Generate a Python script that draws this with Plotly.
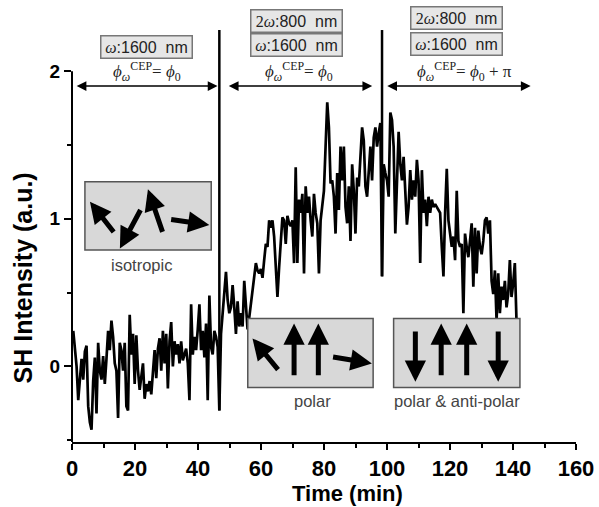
import plotly.graph_objects as go

# ---------------- data ----------------
T0 = 0.4      # first sample time (min)
DT = 0.527    # sampling interval (min)

seg_isotropic = [
    0.24, 0.12, 0.00, -0.23, -0.10, 0.05, -0.09, 0.10, 0.14, -0.27,
    -0.38, -0.43, -0.10, 0.06, -0.32, 0.16, -0.03, -0.09, 0.07, -0.12,
    0.05, 0.24, 0.11, 0.31, 0.20, 0.02, -0.03, -0.35, 0.16, 0.11,
    -0.03, 0.16, -0.27, -0.30, 0.35, 0.08, 0.22, -0.12, 0.21, -0.03,
    -0.16, -0.07, 0.02, -0.22, -0.12, -0.17, -0.10, -0.19, -0.03, 0.11,
    -0.08, 0.12, 0.19, -0.03, 0.24, 0.02, 0.22, -0.15, 0.17, 0.30,
    0.00, 0.17, 0.08, 0.15, 0.02, 0.17, 0.04, 0.08, 0.12, 0.02,
    -0.23, 0.42, 0.08, 0.20, 0.11, 0.25, 0.42, 0.11, 0.24, 0.06,
    0.29, -0.23, 0.48, 0.13, 0.08, 0.24, 0.20, 0.13,
]
seg_polar = [
    0.22, 0.36, 0.47, 0.64, 0.45, 0.36, 0.40, 0.55, 0.40, 0.22,
    0.44, 0.27, 0.36, 0.27, 0.58, 0.40, 0.25, 0.33, 0.42, 0.49,
    0.58, 0.70, 0.65, 0.63, 0.66, 0.60, 0.72, 0.83, 0.81, 0.99,
    0.94, 0.99, 0.88, 0.65, 0.47, 0.67, 0.83, 1.01, 0.99, 0.83,
    1.02, 0.97, 0.95, 0.99, 0.70, 1.35, 0.70, 1.13, 1.04, 1.17,
    0.63, 1.22, 1.04, 1.15, 0.99, 0.88, 1.17, 1.04, 0.97, 0.63,
    0.99, 1.10, 1.19, 1.49, 1.79, 1.62, 1.24, 1.26, 1.15, 0.90,
    1.31, 1.06, 1.49, 1.26, 1.49, 1.08, 0.97, 1.22, 0.85, 1.37,
    1.19, 0.90, 1.28, 1.22, 1.42, 1.62, 1.53, 1.22, 1.15, 1.31,
    1.49, 1.26, 1.55, 1.62, 1.49, 1.58, 1.65,
]
seg_antipolar = [
    1.37, 1.31, 1.26, 1.15, 1.72, 1.67, 1.49, 0.90, 1.26, 1.59,
    1.37, 1.26, 1.42, 1.19, 0.96, 1.08, 1.33, 1.13, 1.26, 1.15,
    1.40, 1.26, 0.70, 1.33, 1.04, 1.13, 0.95, 1.15, 1.04, 1.13,
    1.08, 1.10, 1.08, 1.06, 1.04, 0.81, 0.61, 1.04, 1.34, 0.99,
    0.90, 0.81, 0.88, 0.72, 1.19, 0.85, 0.81, 0.83, 0.36, 0.90,
    0.81, 0.74, 0.85, 0.97, 0.54, 0.94, 0.63, 0.92, 0.81, 0.76,
    0.85, 0.99, 1.01, 0.90, 0.99, 0.58, 0.49, 0.65, 0.31, 0.63,
    0.36, 0.54, 0.45, 0.58, 0.40, 0.49, 0.72, 0.47, 0.56, 0.70,
    0.31,
]
switch_values = [-0.30, 0.61]   # samples at the two switching instants

sh_intensity = (seg_isotropic + [switch_values[0]] + seg_polar
                + [switch_values[1]] + seg_antipolar)
time_min = [round(T0 + i * DT, 3) for i in range(len(sh_intensity))]
switch_times = [time_min[len(seg_isotropic)],
                time_min[len(seg_isotropic) + 1 + len(seg_polar)]]

x_tick_vals = [0, 20, 40, 60, 80, 100, 120, 140, 160]
x_tick_labels = ["0", "20", "40", "60", "80", "100", "120", "140", "160"]
y_tick_vals = [0, 1, 2]
y_tick_labels = ["0", "1", "2"]

panel_labels = ["isotropic", "polar", "polar & anti-polar"]

# ---------------- figure ----------------
SANS = "Liberation Sans"
SERIF = "Liberation Serif"
Y0, Y1 = -0.513, 2.4497

fig = go.Figure()
fig.add_trace(go.Scatter(
    x=time_min, y=sh_intensity, mode="lines",
    line=dict(color="black", width=2.7), showlegend=False, hoverinfo="skip"))

shapes = []
# y axis line (stops at 2)
shapes.append(dict(type="line", xref="paper", yref="y", x0=0, x1=0, y0=Y0, y1=2.0,
                   line=dict(color="black", width=2)))
# separators
for t, v in zip(switch_times, switch_values):
    shapes.append(dict(type="line", xref="x", yref="y", x0=t, x1=t, y0=v, y1=2.28,
                       line=dict(color="black", width=2.5)))
# panels
panel_boxes = [(4.1, 44.2, 0.788, 1.251), (55.8, 95.6, -0.143, 0.325), (102.1, 142.2, -0.143, 0.325)]
for x0, x1, y0, y1 in panel_boxes:
    shapes.append(dict(type="rect", xref="x", yref="y", x0=x0, x1=x1, y0=y0, y1=y1,
                       layer="above", fillcolor="#d8d8d8",
                       line=dict(color="#555555", width=1.5)))

ann = []
# double arrows
for xa, xb in [(1.0, 46.2), (49.3, 95.3), (99.6, 145.6)]:
    ann.append(dict(x=xb, y=1.90, ax=xa, ay=1.90, xref="x", yref="y", axref="x", ayref="y",
                    text="", showarrow=True, arrowhead=2, arrowside="end+start",
                    arrowwidth=1.5, arrowsize=1.3, arrowcolor="black"))

def label_box(x, y, text):
    ann.append(dict(x=x, y=y, xref="x", yref="y", text=text, showarrow=False,
                    xanchor="center", yanchor="middle",
                    bgcolor="#e6e6e6", bordercolor="#777777", borderwidth=1.5,
                    borderpad=1, width=88, height=19,
                    font=dict(family=SANS, size=16, color="#222222")))

omega = "<span style='font-family:Liberation Serif'><i>ω</i></span>"
two_omega = "<span style='font-family:Liberation Serif'>2<i>ω</i></span>"
label_box(23.5, 2.166, omega + ":1600 &nbsp;nm")
label_box(71.4, 2.338, two_omega + ":800 &nbsp;nm")
label_box(71.4, 2.176, omega + ":1600 &nbsp;nm")
label_box(122.0, 2.361, two_omega + ":800 &nbsp;nm")
label_box(122.0, 2.185, omega + ":1600 &nbsp;nm")

phi = "<i>ϕ</i><sub><i>ω</i></sub><sup>CEP</sup>= <i>ϕ</i><sub>0</sub>"
for x, txt in [(23.8, phi), (72.0, phi), (124.5, phi + " + π")]:
    ann.append(dict(x=x, y=2.0, xref="x", yref="y", text=txt, showarrow=False,
                    xanchor="center", yanchor="middle",
                    font=dict(family=SERIF, size=17, color="#222222")))

# panel arrows: (tail_x, tail_y, head_x, head_y)
panel_arrows = [
    (13.6, 0.901, 5.7, 1.116), (22.0, 1.070, 15.2, 0.799),
    (28.9, 0.901, 24.1, 1.200), (31.0, 0.997, 43.6, 0.958),
    (65.8, -0.032, 57.3, 0.189), (70.5, -0.071, 70.5, 0.291),
    (78.2, -0.071, 78.2, 0.291), (82.4, 0.065, 95.2, 0.020),
    (109.0, 0.246, 109.0, -0.105), (117.2, -0.071, 117.2, 0.291),
    (125.3, -0.071, 125.3, 0.291), (135.3, 0.246, 135.3, -0.105),
]
for tx, ty, hx, hy in panel_arrows:
    ann.append(dict(x=hx, y=hy, ax=tx, ay=ty, xref="x", yref="y", axref="x", ayref="y",
                    text="", showarrow=True, arrowhead=2, arrowwidth=5, arrowsize=0.85,
                    arrowcolor="black"))

for (x, y), txt in zip([(22.0, 0.686), (76.2, -0.234), (122.2, -0.234)], panel_labels):
    ann.append(dict(x=x, y=y, xref="x", yref="y", text=txt, showarrow=False,
                    xanchor="center", yanchor="middle",
                    font=dict(family=SANS, size=16.5, color="#444444")))

# axis titles
ann.append(dict(x=87.5, y=-0.117, xref="x", yref="paper", text="Time (min)", showarrow=False,
                xanchor="center", yanchor="middle",
                font=dict(family=SANS, size=22, color="black", weight="bold")))
ann.append(dict(x=-0.098, y=0.6, xref="paper", yref="y", text="SH Intensity (a.u.)",
                textangle=-90, showarrow=False, xanchor="center", yanchor="middle",
                font=dict(family=SANS, size=25, color="black", weight="bold")))

fig.update_layout(
    width=599, height=507,
    margin=dict(l=72, r=21, t=5, b=65),
    paper_bgcolor="white", plot_bgcolor="white",
    shapes=shapes, annotations=ann, showlegend=False,
    xaxis=dict(range=[0, 160], tickvals=x_tick_vals, ticktext=x_tick_labels,
               showline=True, linecolor="black", linewidth=2, showgrid=False, zeroline=False,
               ticks="outside", ticklen=6, tickwidth=2, tickcolor="black",
               minor=dict(dtick=10, ticks="outside", ticklen=4, tickwidth=2, tickcolor="black"),
               tickfont=dict(family=SANS, size=22, color="black", weight="bold")),
    yaxis=dict(range=[Y0, Y1], tickvals=y_tick_vals, ticktext=y_tick_labels,
               showline=False, showgrid=False, zeroline=False,
               ticks="outside", ticklen=7, tickwidth=2, tickcolor="black",
               minor=dict(tickvals=[-0.5, 0.5, 1.5], ticks="outside", ticklen=4,
                          tickwidth=2, tickcolor="black"),
               tickfont=dict(family=SANS, size=19, color="black", weight="bold")),
)

fig.write_html("out.html", config={"displayModeBar": False},
               post_script="document.body.style.margin='0px';")
